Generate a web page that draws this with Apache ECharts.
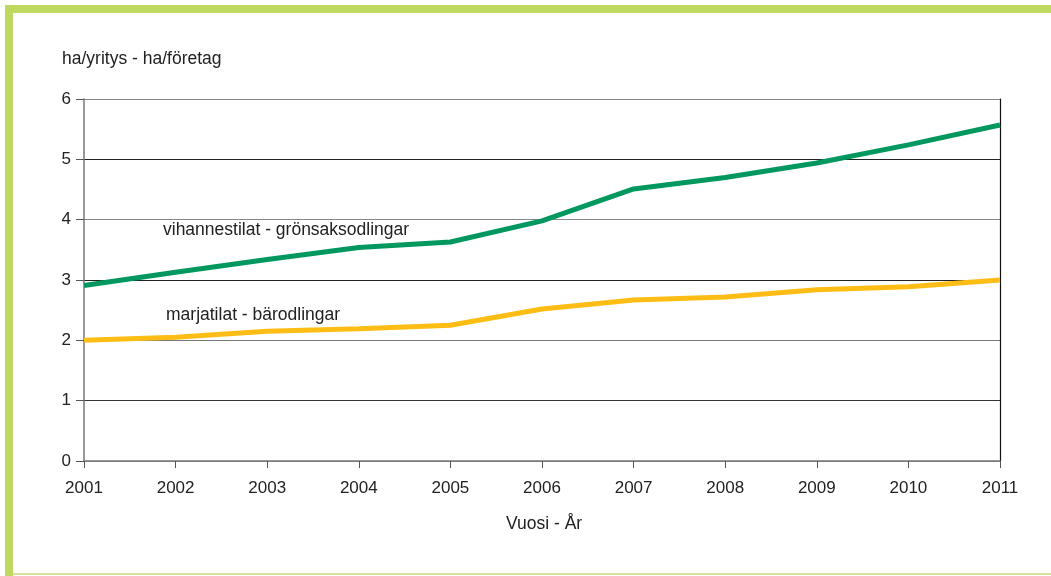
<!DOCTYPE html>
<html>
<head>
<meta charset="utf-8">
<script src="https://cdn.jsdelivr.net/npm/echarts@6/dist/echarts.min.js"></script>
<style>
  html, body { margin: 0; padding: 0; background: #fff; }
  #chart { width: 1051px; height: 576px; }
</style>
</head>
<body>
<div id="chart"></div>
<script>
var years = ['2001', '2002', '2003', '2004', '2005', '2006', '2007', '2008', '2009', '2010', '2011'];
// vihannestilat - grönsaksodlingar
var vegetables = [2.91, 3.13, 3.34, 3.54, 3.63, 3.98, 4.51, 4.70, 4.94, 5.24, 5.57];
// marjatilat - bärodlingar
var berries = [2.00, 2.05, 2.15, 2.19, 2.25, 2.52, 2.67, 2.72, 2.84, 2.89, 3.00];

var font = 'Liberation Sans, Arial, sans-serif';
var frameGreen = '#bfd960';

var dom = document.getElementById('chart');
var myChart = echarts.init(dom, null, { renderer: 'canvas' });
var option = {
  animation: false,
  backgroundColor: '#fff',
  grid: { left: 84, right: 51, top: 99, bottom: 115 },
  graphic: [
    // frame
    { type: 'rect', shape: { x: 5, y: 5, width: 1046, height: 8 }, style: { fill: frameGreen } },
    { type: 'rect', shape: { x: 5, y: 5, width: 8, height: 571 }, style: { fill: frameGreen } },
    { type: 'rect', shape: { x: 13, y: 573, width: 1038, height: 2 }, style: { fill: '#d3e39a' } },
    // titles and series labels
    { type: 'text', left: 62, top: 50, style: { text: 'ha/yritys - ha/företag', font: '17.5px ' + font, fill: '#222' } },
    { type: 'text', left: 506, top: 515, style: { text: 'Vuosi - År', font: '17.5px ' + font, fill: '#222' } },
    { type: 'text', left: 163, top: 221, style: { text: 'vihannestilat - grönsaksodlingar', font: '17.5px ' + font, fill: '#222' } },
    { type: 'text', left: 166, top: 306, style: { text: 'marjatilat - bärodlingar', font: '17.5px ' + font, fill: '#222' } }
  ],
  xAxis: {
    type: 'category',
    data: years,
    boundaryGap: false,
    axisLine: { lineStyle: { color: '#777', width: 1.5 } },
    axisTick: { show: true, length: 7, lineStyle: { color: '#555' } },
    axisLabel: { color: '#222', fontSize: 17, fontFamily: font, margin: 19, showMinLabel: true, showMaxLabel: true, interval: 0 },
    splitLine: { show: false }
  },
  yAxis: [{
    type: 'value',
    min: 0,
    max: 6,
    interval: 1,
    axisLine: { show: true, lineStyle: { color: '#777', width: 1.5 } },
    axisTick: { show: true, length: 8, lineStyle: { color: '#555' } },
    axisLabel: { color: '#222', fontSize: 17, fontFamily: font, margin: 13 },
    splitLine: { show: true, lineStyle: { color: ['#888', '#333', '#777', '#222', '#888', '#222', '#888'], width: 1 } }
  }, {
    type: 'value',
    position: 'right',
    min: 0,
    max: 6,
    axisLine: { show: true, lineStyle: { color: '#111', width: 1.2 } },
    axisTick: { show: false },
    axisLabel: { show: false },
    splitLine: { show: false }
  }],
  series: [
    {
      name: 'vihannestilat - grönsaksodlingar',
      type: 'line',
      data: vegetables,
      symbol: 'none',
      lineStyle: { color: '#00985f', width: 5 },
      z: 3
    },
    {
      name: 'marjatilat - bärodlingar',
      type: 'line',
      data: berries,
      symbol: 'none',
      lineStyle: { color: '#fdbd14', width: 5 },
      z: 3
    }
  ]
};
myChart.setOption(option);
window.addEventListener('resize', myChart.resize);
</script>
</body>
</html>
